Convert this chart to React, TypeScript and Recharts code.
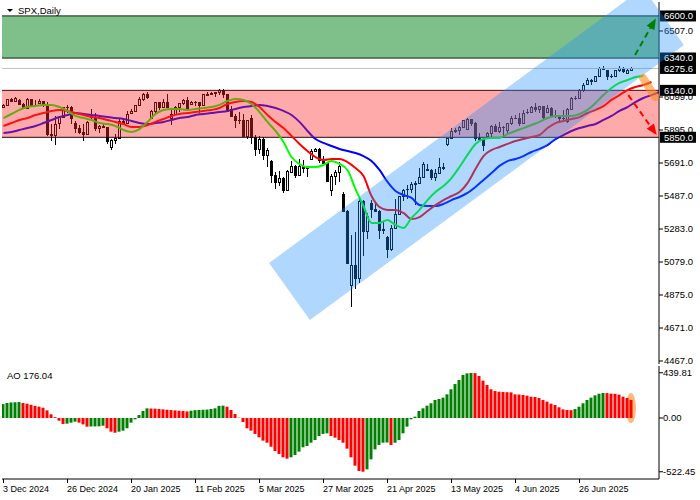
import React from 'react';
import { ComposedChart, Bar, Line, XAxis, YAxis, ReferenceArea, ReferenceLine, Cell } from 'recharts';

// bar index of every date label on the time axis, and the label itself
const tickBars = [0, 16, 32, 48, 64, 80, 96, 112, 128, 144];
const tickDates = [
  '3 Dec 2024', '26 Dec 2024', '20 Jan 2025', '11 Feb 2025', '5 Mar 2025',
  '27 Mar 2025', '21 Apr 2025', '13 May 2025', '4 Jun 2025', '26 Jun 2025',
];

// SPX daily candles, bar 0 = 3 Dec 2024
const opens = [
  6040, 6049, 6086, 6075, 6083, 6053, 6034, 6085, 6051, 6063,
  6074, 6050, 5872, 5867, 5941, 5974, 6040, 6037, 5940, 5907,
  5882, 5869, 5982, 5975, 5909, 5918, 5912, 5788, 5836, 5843,
  5950, 5937, 5999, 6015, 6049, 6086, 6119, 5970, 6012, 6067,
  6039, 6071, 5969, 5994, 6037, 6061, 6083, 6053, 6066, 6068,
  6051, 6115, 6120, 6122, 6129, 6144, 6117, 6026, 5983, 5955,
  5956, 5861, 5969, 5849, 5778, 5842, 5739, 5705, 5615, 5572,
  5599, 5522, 5635, 5675, 5615, 5675, 5663, 5718, 5768, 5776,
  5712, 5693, 5527, 5612, 5633, 5500, 5397, 4937, 5062, 4982,
  5457, 5268, 5441, 5406, 5397, 5276, 5232, 5158, 5288, 5376,
  5485, 5529, 5530, 5560, 5569, 5604, 5655, 5650, 5607, 5631,
  5664, 5808, 5844, 5886, 5892, 5916, 5902, 5964, 5941, 5845,
  5842, 5860, 5875, 5922, 5889, 5912, 5897, 5936, 5970, 5971,
  5939, 6005, 6006, 6038, 6022, 6045, 6005, 6033, 5982, 5981,
  5970, 5950, 6025, 6092, 6093, 6141, 6180, 6205, 6198, 6227,
  6279, 6265, 6230, 6226, 6263, 6280, 6245, 6268,
];
const highs = [
  6055, 6089, 6092, 6099, 6088, 6065, 6092, 6088, 6078, 6085,
  6076, 6071, 5935, 5982, 5979, 6040, 6050, 6041, 5950, 5929,
  5935, 5949, 6022, 6000, 5927, 5932, 5915, 5837, 5871, 5960,
  5964, 6012, 6025, 6052, 6100, 6121, 6128, 6018, 6070, 6068,
  6086, 6120, 6023, 6042, 6062, 6084, 6101, 6074, 6076, 6070,
  6116, 6127, 6130, 6130, 6147, 6146, 6120, 6043, 5992, 6009,
  5994, 5959, 5986, 5866, 5860, 5850, 5783, 5710, 5636, 5642,
  5605, 5645, 5703, 5680, 5716, 5711, 5670, 5775, 5786, 5782,
  5733, 5695, 5623, 5650, 5695, 5510, 5400, 5247, 5267, 5482,
  5460, 5381, 5460, 5450, 5400, 5328, 5240, 5309, 5469, 5485,
  5528, 5553, 5571, 5581, 5658, 5700, 5684, 5652, 5655, 5720,
  5689, 5846, 5907, 5906, 5917, 5959, 5969, 5966, 5945, 5878,
  5845, 5885, 5924, 5931, 5943, 5922, 5936, 5981, 5990, 5999,
  6017, 6022, 6043, 6060, 6045, 6046, 6050, 6036, 6018, 5990,
  6018, 6028, 6101, 6108, 6146, 6188, 6216, 6211, 6227, 6285,
  6290, 6268, 6242, 6269, 6290, 6282, 6272, 6285,
];
const lows = [
  6032, 6045, 6071, 6072, 6047, 6029, 6030, 6051, 6035, 6059,
  6036, 5855, 5830, 5800, 5903, 5970, 6003, 5932, 5879, 5869,
  5829, 5865, 5961, 5890, 5874, 5905, 5809, 5774, 5806, 5840,
  5933, 5935, 5995, 6004, 6045, 6074, 6088, 5962, 5995, 6017,
  6030, 6030, 5923, 5985, 6007, 6048, 6020, 6048, 6043, 6003,
  6045, 6107, 6110, 6099, 6111, 6091, 6009, 5977, 5908, 5933,
  5858, 5837, 5810, 5733, 5744, 5711, 5666, 5565, 5528, 5547,
  5505, 5515, 5631, 5598, 5610, 5632, 5603, 5712, 5760, 5694,
  5673, 5572, 5489, 5558, 5571, 5390, 5069, 4803, 4910, 4950,
  5115, 5220, 5348, 5386, 5220, 5255, 5101, 5150, 5285, 5371,
  5455, 5468, 5505, 5433, 5560, 5600, 5640, 5588, 5580, 5625,
  5646, 5795, 5840, 5874, 5867, 5911, 5895, 5922, 5830, 5826,
  5767, 5850, 5854, 5885, 5874, 5843, 5879, 5929, 5966, 5921,
  5935, 5996, 6000, 6007, 6003, 5963, 6000, 5975, 5971, 5950,
  5952, 5940, 6020, 6080, 6088, 6133, 6175, 6172, 6189, 6225,
  6265, 6202, 6217, 6220, 6251, 6247, 6240, 6262,
];
const closes = [
  6049, 6086, 6075, 6090, 6053, 6034, 6085, 6051, 6052, 6074,
  6050, 5872, 5867, 5931, 5974, 6040, 6037, 5971, 5907, 5882,
  5869, 5942, 5975, 5909, 5918, 5912, 5827, 5836, 5843, 5950,
  5937, 5997, 6015, 6049, 6086, 6119, 6101, 6012, 6067, 6039,
  6071, 6040, 5994, 6037, 6061, 6083, 6026, 6066, 6068, 6051,
  6115, 6114, 6122, 6129, 6144, 6117, 6013, 5983, 5955, 5956,
  5861, 5955, 5849, 5778, 5842, 5739, 5770, 5615, 5572, 5599,
  5522, 5639, 5675, 5615, 5675, 5663, 5667, 5768, 5776, 5712,
  5693, 5581, 5612, 5633, 5671, 5397, 5074, 5062, 4982, 5457,
  5268, 5363, 5406, 5397, 5276, 5283, 5158, 5288, 5376, 5485,
  5525, 5530, 5560, 5569, 5604, 5686, 5650, 5607, 5631, 5664,
  5660, 5844, 5886, 5892, 5916, 5958, 5964, 5941, 5845, 5842,
  5803, 5875, 5922, 5889, 5912, 5911, 5936, 5970, 5971, 5939,
  6000, 6006, 6038, 6022, 6045, 5977, 6033, 5982, 5981, 5970,
  5967, 6025, 6092, 6093, 6141, 6173, 6205, 6198, 6227, 6279,
  6272, 6230, 6226, 6263, 6280, 6259, 6268, 6275.6,
];

// Alligator lines, read every second bar (bar 0, 2, 4, ...)
const lipsEven = [
  5969, 5994, 6019, 6037, 6043, 6050, 6050, 6037, 6013, 5982,
  5969, 5957, 5938, 5932, 5920, 5895, 5883, 5901, 5945, 5994,
  6019, 6025, 6025, 6019, 6025, 6031, 6037, 6050, 6074, 6087,
  6081, 6056, 6006, 5945, 5889, 5821, 5728, 5685, 5666, 5666,
  5679, 5703, 5685, 5648, 5530, 5425, 5320, 5320, 5339, 5308,
  5289, 5351, 5401, 5462, 5512, 5549, 5598, 5666, 5741, 5809,
  5839, 5846, 5846, 5870, 5889, 5907, 5926, 5945, 5969, 5982,
  5982, 5982, 5994, 6019, 6062, 6111, 6155, 6186, 6204, 6223,
  6229,
];
const teethEven = [
  5920, 5938, 5957, 5969, 5988, 6000, 6013, 6019, 6013, 6000,
  5988, 5975, 5969, 5957, 5945, 5932, 5914, 5914, 5926, 5945,
  5963, 5982, 5994, 6000, 6006, 6013, 6019, 6031, 6056, 6068,
  6074, 6068, 6037, 5988, 5945, 5907, 5858, 5809, 5765, 5728,
  5710, 5716, 5716, 5697, 5660, 5611, 5487, 5419, 5401, 5401,
  5382, 5345, 5357, 5394, 5431, 5462, 5487, 5512, 5567, 5654,
  5734, 5771, 5790, 5809, 5827, 5839, 5852, 5864, 5907, 5938,
  5951, 5963, 5975, 6000, 6019, 6043, 6081, 6111, 6142, 6161,
  6173, 6192,
];
const jawEven = [
  5877, 5883, 5895, 5907, 5920, 5938, 5957, 5975, 5988, 6000,
  5994, 5988, 5982, 5975, 5969, 5963, 5951, 5938, 5932, 5938,
  5945, 5957, 5969, 5975, 5988, 5994, 6000, 6006, 6013, 6025,
  6037, 6043, 6050, 6043, 6031, 6013, 5988, 5945, 5889, 5839,
  5815, 5796, 5778, 5765, 5753, 5734, 5703, 5648, 5574, 5518,
  5493, 5475, 5431, 5425, 5425, 5438, 5462, 5481, 5506, 5543,
  5586, 5629, 5673, 5703, 5716, 5734, 5759, 5778, 5802, 5839,
  5864, 5889, 5907, 5920, 5932, 5957, 5982, 6013, 6037, 6068,
  6093, 6111, 6130,
];

// Awesome Oscillator, one value per bar
const aoValues = [
  135, 146, 151, 153, 155, 146, 139, 128, 118, 110,
  100, 74, 36, 8, -26, -58, -55, -45, -36, -45,
  -62, -84, -83, -82, -81, -75, -100, -133, -143, -133,
  -123, -100, -45, -13, 29, 68, 94, 92, 91, 88,
  84, 80, 77, 74, 71, 68, 64, 71, 76, 78,
  80, 82, 88, 94, 118, 120, 110, 78, 39, 3,
  -39, -100, -123, -155, -188, -220, -240, -279, -321, -350,
  -382, -395, -382, -360, -327, -285, -272, -240, -214, -175,
  -155, -149, -175, -191, -214, -240, -298, -382, -463, -515,
  -522, -499, -402, -305, -262, -240, -238, -262, -240, -214,
  -149, -84, -13, 13, 68, 94, 120, 143, 175, 185,
  198, 230, 279, 330, 369, 418, 434, 438, 436, 408,
  363, 321, 279, 262, 256, 253, 251, 249, 230, 228,
  224, 217, 207, 204, 194, 175, 159, 139, 126, 104,
  84, 78, 76, 87, 110, 143, 175, 198, 220, 236,
  243, 242, 237, 235, 227, 207, 194, 176.04,
];

// price-axis labels, and the drawn levels that get a black tag
const priceTicks = [6507, 6099, 5895, 5691, 5487, 5283, 5079, 4875, 4671, 4467];
const levelTicks = [6600, 6340, 6275.6, 6140, 5850];
const aoTicks = [439.81, 0, -522.45];

const buyZone = [6340, 6600];
const sellZone = [5850, 6140];
const bidPrice = 6275.6;

// trend channel corners (bar, price)
const channelBars = [66.4, 76.6, 170.1, 159.9];
const channelPrices = [5073, 4720, 6420, 6773];
// annotation arrows: start and end (bar, price)
const upArrowBars = [157.9, 163.1];
const upArrowPrices = [6359, 6585];
const downArrowBars = [156.2, 163.3];
const downArrowPrices = [6111, 5864];
const markBars = [159.9, 162.9];
const markPrices = [6216, 6099];
const aoMarkBars = [155.6, 158.1];
const aoMarkValues = [-49, 243];

const xDomain: [number, number] = [-0.375, 163.875];
const priceDomain: [number, number] = [4448.5, 6686.3];
const aoDomain: [number, number] = [-592.9, 505.4];
const FONT = "'Liberation Sans', Arial, sans-serif";
const BARS = 166;

const priceRows = Array.from({ length: BARS }, (_, i) => ({
  i,
  o: opens[i] ?? null,
  h: highs[i] ?? null,
  l: lows[i] ?? null,
  c: closes[i] ?? null,
  lips: i % 2 === 0 ? lipsEven[i / 2] ?? null : null,
  teeth: i % 2 === 0 ? teethEven[i / 2] ?? null : null,
  jaw: i % 2 === 0 ? jawEven[i / 2] ?? null : null,
}));

const aoRows = aoValues.map((v, i) => ({ i, ao: v }));

function CandleShape(props: any) {
  const { x, y, width, height, payload } = props;
  if (!payload || payload.h == null) return null;
  const { o, h, l, c } = payload;
  const top = Math.min(y, y + height);
  const span = Math.abs(height);
  const toY = (v: number) => top + ((h - v) / (h - l)) * span;
  const cx = Math.floor(x + width / 2) + 0.5;
  const bTop = Math.round(toY(Math.max(o, c))) + 0.5;
  const bBot = Math.round(toY(Math.min(o, c))) + 0.5;
  const bull = c >= o;
  return (
    <g shapeRendering="crispEdges">
      <line x1={cx} x2={cx} y1={top} y2={top + span} stroke="#000" />
      {bBot - bTop < 1 ? (
        <line x1={cx - 1.5} x2={cx + 1.5} y1={bTop} y2={bTop} stroke="#000" />
      ) : (
        <rect x={cx - 1} y={bTop} width={2} height={bBot - bTop} fill={bull ? '#fff' : '#000'} stroke="#000" />
      )}
    </g>
  );
}

function polygonShape(bars: number[], vals: number[], fill: string, opacity: number) {
  const bMin = Math.min(...bars);
  const bMax = Math.max(...bars);
  const vMin = Math.min(...vals);
  const vMax = Math.max(...vals);
  return (props: any) => {
    const { x, y, width, height } = props;
    const pts = bars
      .map((b, k) => `${x + ((b - bMin) / (bMax - bMin)) * width},${y + ((vMax - vals[k]) / (vMax - vMin)) * height}`)
      .join(' ');
    return <polygon points={pts} fill={fill} fillOpacity={opacity} />;
  };
}

function arrowShape(color: string, up: boolean) {
  return (props: any) => {
    const { x, y, width, height } = props;
    const x1 = x;
    const x2 = x + width;
    const y1 = up ? y + height : y;
    const y2 = up ? y : y + height;
    const a = Math.atan2(y2 - y1, x2 - x1);
    const cos = Math.cos(a);
    const sin = Math.sin(a);
    const bx = x2 - 11 * cos;
    const by = y2 - 11 * sin;
    const head = `${x2},${y2} ${bx - 4.5 * sin},${by + 4.5 * cos} ${bx + 4.5 * sin},${by - 4.5 * cos}`;
    return (
      <g>
        <line x1={x1} y1={y1} x2={bx} y2={by} stroke={color} strokeWidth={2} strokeDasharray="6 4" />
        <polygon points={head} fill={color} />
      </g>
    );
  };
}

function markShape(props: any) {
  const { x, y, width, height } = props;
  return (
    <line x1={x} y1={y} x2={x + width} y2={y + height} stroke="#ff8a1e" strokeOpacity={0.6} strokeWidth={8} strokeLinecap="round" />
  );
}

function ellipseShape(props: any) {
  const { x, y, width, height } = props;
  return <ellipse cx={x + width / 2} cy={y + height / 2} rx={width / 2} ry={height / 2} fill="#ff8a1e" fillOpacity={0.6} />;
}

function PriceTick(props: any) {
  const { x, y, payload } = props;
  const v = payload.value as number;
  const label = v.toFixed(1);
  if (levelTicks.includes(v)) {
    return (
      <g>
        <rect x={x + 1} y={y - 5.5} width={36} height={11} fill="#000" />
        <text x={x + 5} y={y} dy="0.35em" fontSize={9.5} fontFamily={FONT} fill="#fff">{label}</text>
      </g>
    );
  }
  return (
    <g>
      <line x1={x} x2={x + 4} y1={y} y2={y} stroke="#000" />
      <text x={x + 5} y={y} dy="0.35em" fontSize={9.5} fontFamily={FONT} fill="#000">{label}</text>
    </g>
  );
}

function AoTick(props: any) {
  const { x, y, payload } = props;
  const v = payload.value as number;
  return (
    <g>
      <line x1={x} x2={x + 4} y1={y} y2={y} stroke="#000" />
      <text x={x + 4} y={y} dy="0.35em" fontSize={9.5} fontFamily={FONT} fill="#000">{v.toFixed(2)}</text>
    </g>
  );
}

function DateTick(props: any) {
  const { x, y, payload } = props;
  const k = tickBars.indexOf(payload.value);
  const px = Math.floor(x) + 0.5;
  return (
    <g>
      <line x1={px} x2={px} y1={y} y2={y + 4} stroke="#000" />
      <text x={px - 0.5} y={y + 12.5} fontSize={9} fontFamily={FONT} fill="#000">{tickDates[k]}</text>
    </g>
  );
}

export default function App() {
  const aoLast = aoValues[aoValues.length - 1];
  return (
    <div style={{ position: 'absolute', left: 0, top: 0, width: 700, height: 500, background: '#fff', overflow: 'hidden' }}>
      <div style={{ position: 'absolute', left: 0, top: 0 }}>
        <ComposedChart width={700} height={365} data={priceRows} margin={{ top: 2, right: 0, bottom: 1, left: 2 }}>
          <XAxis dataKey="i" type="number" domain={xDomain} allowDataOverflow height={0} tick={false} tickLine={false} axisLine={{ stroke: '#000' }} />
          <XAxis xAxisId="top" orientation="top" type="number" domain={xDomain} allowDataOverflow height={0} tick={false} tickLine={false} axisLine={{ stroke: '#000' }} />
          <YAxis yAxisId="frame" orientation="left" width={0} domain={priceDomain} tick={false} tickLine={false} axisLine={{ stroke: '#000' }} />
          <YAxis
            orientation="right"
            width={41}
            type="number"
            domain={priceDomain}
            allowDataOverflow
            ticks={[...priceTicks, ...levelTicks]}
            interval={0}
            tickSize={0}
            tickMargin={0}
            tickLine={false}
            tick={<PriceTick />}
            axisLine={{ stroke: '#000' }}
          />
          <ReferenceLine y={bidPrice} stroke="#c0c0c0" ifOverflow="visible" />
          {[...buyZone, ...sellZone].map((v) => (
            <ReferenceLine key={v} y={v} stroke="#000" ifOverflow="visible" />
          ))}
          <Line dataKey="jaw" stroke="#0000ff" strokeWidth={2} dot={false} connectNulls type="monotone" isAnimationActive={false} />
          <Line dataKey="teeth" stroke="#ff0000" strokeWidth={2} dot={false} connectNulls type="monotone" isAnimationActive={false} />
          <Line dataKey="lips" stroke="#00ff00" strokeWidth={2} dot={false} connectNulls type="monotone" isAnimationActive={false} />
          <Bar dataKey={(d: any) => (d.h == null ? null : [d.l, d.h])} barSize={3} shape={CandleShape} isAnimationActive={false} />
        </ComposedChart>
      </div>
      {/* drawn objects lie over the price chart, as translucent layers */}
      <div style={{ position: 'absolute', left: 0, top: 0, pointerEvents: 'none' }}>
        <ComposedChart width={700} height={365} data={priceRows} margin={{ top: 2, right: 41, bottom: 1, left: 2 }}>
          <XAxis dataKey="i" type="number" domain={xDomain} allowDataOverflow hide />
          <YAxis type="number" domain={priceDomain} allowDataOverflow hide />
          <ReferenceArea y1={buyZone[0]} y2={buyZone[1]} fill="#008014" fillOpacity={0.5} stroke="none" ifOverflow="visible" />
          <ReferenceArea y1={sellZone[0]} y2={sellZone[1]} fill="#ff2a2a" fillOpacity={0.4} stroke="none" ifOverflow="visible" />
          <ReferenceArea
            x1={Math.min(...channelBars)}
            x2={Math.max(...channelBars)}
            y1={Math.min(...channelPrices)}
            y2={Math.max(...channelPrices)}
            ifOverflow="visible"
            shape={polygonShape(channelBars, channelPrices, '#1e90ff', 0.35)}
          />
          <ReferenceArea x1={markBars[0]} x2={markBars[1]} y1={markPrices[0]} y2={markPrices[1]} ifOverflow="visible" shape={markShape} />
          <ReferenceArea
            x1={upArrowBars[0]}
            x2={upArrowBars[1]}
            y1={upArrowPrices[0]}
            y2={upArrowPrices[1]}
            ifOverflow="visible"
            shape={arrowShape('#008000', true)}
          />
          <ReferenceArea
            x1={downArrowBars[0]}
            x2={downArrowBars[1]}
            y1={downArrowPrices[0]}
            y2={downArrowPrices[1]}
            ifOverflow="visible"
            shape={arrowShape('#ff0000', false)}
          />
        </ComposedChart>
      </div>
      <div style={{ position: 'absolute', left: 0, top: 365 }}>
        <ComposedChart width={700} height={135} data={aoRows} margin={{ top: 1, right: 0, bottom: 0, left: 2 }}>
          <XAxis
            dataKey="i"
            type="number"
            domain={xDomain}
            allowDataOverflow
            ticks={tickBars}
            interval={0}
            height={21}
            tickSize={0}
            tickMargin={0}
            tickLine={false}
            tick={<DateTick />}
            axisLine={{ stroke: '#000' }}
          />
          <XAxis xAxisId="top" orientation="top" type="number" domain={xDomain} allowDataOverflow height={0} tick={false} tickLine={false} axisLine={{ stroke: '#000' }} />
          <YAxis yAxisId="frame" orientation="left" width={0} domain={aoDomain} tick={false} tickLine={false} axisLine={{ stroke: '#000' }} />
          <YAxis
            orientation="right"
            width={41}
            type="number"
            domain={aoDomain}
            allowDataOverflow
            ticks={aoTicks}
            interval={0}
            tickSize={0}
            tickMargin={0}
            tickLine={false}
            tick={<AoTick />}
            axisLine={{ stroke: '#000' }}
          />
          <Bar dataKey="ao" barSize={3} isAnimationActive={false}>
            {aoValues.map((v, i) => (
              <Cell key={i} fill={i > 0 && v < aoValues[i - 1] ? '#ff0000' : '#008000'} />
            ))}
          </Bar>
          <ReferenceArea x1={aoMarkBars[0]} x2={aoMarkBars[1]} y1={aoMarkValues[0]} y2={aoMarkValues[1]} ifOverflow="visible" shape={ellipseShape} />
        </ComposedChart>
      </div>
      <svg width={700} height={500} style={{ position: 'absolute', left: 0, top: 0, pointerEvents: 'none' }}>
        <polygon points="7,9 13,9 10,12" fill="#000" />
        <text x={18} y={14} fontSize={9.5} fontFamily={FONT} fill="#000">SPX,Daily</text>
        <text x={7} y={379} fontSize={9.5} fontFamily={FONT} fill="#000">{`AO ${aoLast.toFixed(2)}`}</text>
      </svg>
    </div>
  );
}
